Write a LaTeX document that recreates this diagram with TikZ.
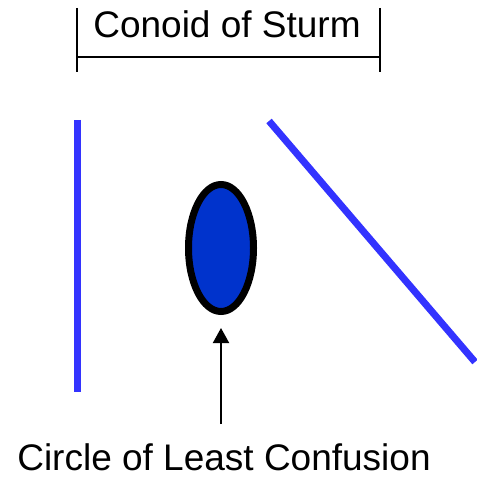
\documentclass[tikz,border=0pt]{standalone}
\usepackage{fontspec}
\setmainfont{Liberation Sans}
\usetikzlibrary{shapes.geometric,arrows.meta}
\definecolor{rayblue}{HTML}{3333FF}
\definecolor{spotblue}{HTML}{0033CC}
\tikzset{
  ray/.style={draw=rayblue,line width=7pt},
  bracketline/.style={draw=black,line width=2pt},
  label/.style={font=\fontsize{37}{44}\selectfont,inner sep=0pt,anchor=base},
}
\begin{document}
\begin{tikzpicture}[x=1pt,y=-1pt]
\useasboundingbox (0,0) rectangle (476,478);
% bracket
\coordinate (bl) at (77,8);
\coordinate (blb) at (77,72);
\coordinate (br) at (380,8);
\coordinate (brb) at (380,72);
\coordinate (hl) at (77,57);
\coordinate (hr) at (380,57);
\draw[bracketline] (bl) -- (blb);
\draw[bracketline] (br) -- (brb);
\draw[bracketline] (hl) -- (hr);
\node[label] (conoid) at (227,38) {Conoid of Sturm};
% rays
\coordinate (l1) at (77,120);
\coordinate (l2) at (77,392);
\draw[ray] (l1) -- (l2);
\coordinate (d1) at (269,121);
\coordinate (d2) at (475,362);
\draw[ray] (d1) -- (d2);
% circle of least confusion
\node[ellipse,draw=black,fill=spotblue,line width=7pt,minimum width=65pt,minimum height=127pt,inner sep=0pt] (coc) at (221,248) {};
\coordinate (arrowstart) at (221,424);
\draw[line width=2pt,-{Triangle[width=16pt,length=15pt]},shorten >=13pt] (arrowstart) -- (coc.south);
\node[label] (circle) at (224,470) {Circle of Least Confusion};
\end{tikzpicture}
\end{document}
